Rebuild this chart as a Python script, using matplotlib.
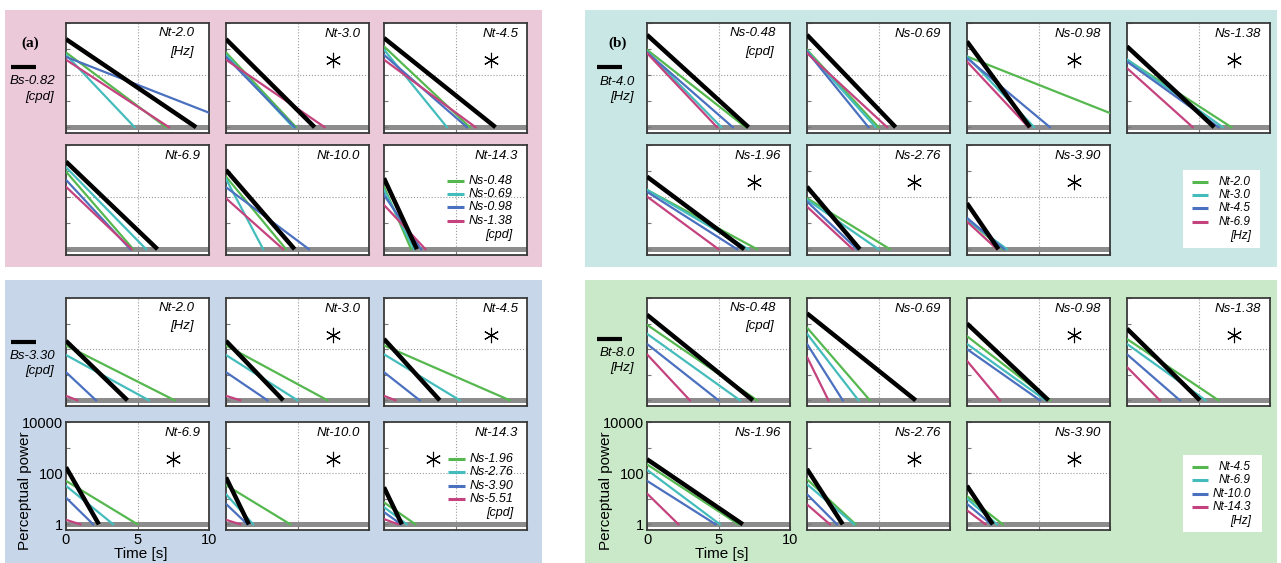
import numpy as np
import matplotlib.pyplot as plt
from matplotlib.lines import Line2D
from matplotlib.patches import Rectangle

W, H = 1281, 563
plt.rcParams['font.family'] = ['Liberation Sans', 'DejaVu Sans']

GREEN = '#55b84f'
CYAN = '#45bcbc'
BLUE = '#4a70bf'
MAGENTA = '#c4437f'
line_colors = [GREEN, CYAN, BLUE, MAGENTA]

# ---- (a) upper: Bs-0.82 cpd, lines = Ns, panels = Nt
a_titles = ['Nt-2.0', 'Nt-3.0', 'Nt-4.5', 'Nt-6.9', 'Nt-10.0', 'Nt-14.3']
a_star = [0, 1, 1, 0, 0, 0]
a_black_start = [2400, 2400, 2650, 2300, 1100, 530]
a_black_end = [9.1, 6.2, 7.8, 6.4, 4.8, 2.3]
a_start = [[740, 600, 500, 390], [740, 600, 500, 390], [1260, 950, 600, 390],
           [950, 1400, 460, 250], [610, 500, 240, 90], [250, 190, 120, 50]]
a_end = [[7.0, 4.8, 12.6, 7.2], [4.9, 4.7, 4.8, 6.9], [6.0, 4.4, 5.8, 6.4],
         [4.7, 5.6, 4.5, 4.6], [4.2, 2.6, 5.8, 4.0], [1.9, 2.1, 2.6, 2.9]]
a_legend = ['Ns-0.48', 'Ns-0.69', 'Ns-0.98', 'Ns-1.38']

# ---- (a) lower: Bs-3.30 cpd
c_titles = ['Nt-2.0', 'Nt-3.0', 'Nt-4.5', 'Nt-6.9', 'Nt-10.0', 'Nt-14.3']
c_star = [0, 1, 1, 1, 1, 1]
c_black_start = [210, 210, 250, 170, 68, 28]
c_black_end = [4.3, 4.0, 3.9, 2.3, 1.6, 1.25]
c_start = [[140, 59, 12.6, 1.5], [140, 59, 12.6, 1.5], [140, 63, 12.6, 1.5],
           [50, 32, 11, 1.5], [34, 15, 6.3, 1.5], [7.2, 4.7, 3.0, 1.6]]
c_end = [[7.6, 5.8, 2.1, 0.8], [7.1, 5.0, 2.9, 1.0], [8.8, 5.3, 2.5, 0.8],
         [5.0, 3.3, 1.9, 1.0], [4.5, 1.9, 1.5, 1.0], [2.2, 1.6, 1.2, 1.0]]
c_legend = ['Ns-1.96', 'Ns-2.76', 'Ns-3.90', 'Ns-5.51']

# ---- (b) upper: Bt-4.0 Hz, lines = Nt, panels = Ns
b_titles = ['Ns-0.48', 'Ns-0.69', 'Ns-0.98', 'Ns-1.38', 'Ns-1.96', 'Ns-2.76', 'Ns-3.90']
b_star = [0, 0, 1, 1, 1, 1, 1]
b_black_start = [3500, 3500, 1950, 1260, 610, 250, 58]
b_black_end = [7.1, 6.2, 4.4, 6.1, 6.8, 3.7, 2.2]
b_start = [[940, 800, 750, 700], [940, 850, 800, 700], [520, 520, 450, 330],
           [390, 400, 330, 185], [190, 190, 160, 105], [91, 80, 68, 43],
           [14, 13, 16, 11.5]]
b_end = [[6.9, 5.2, 6.0, 4.9], [5.0, 4.8, 4.3, 5.6], [12.5, 4.7, 5.8, 4.3],
         [7.3, 6.7, 6.4, 4.6], [7.7, 7.1, 6.3, 5.0], [5.8, 5.0, 3.5, 3.2],
         [2.5, 2.8, 2.6, 2.1]]
b_legend = ['Nt-2.0', 'Nt-3.0', 'Nt-4.5', 'Nt-6.9']

# ---- (b) lower: Bt-8.0 Hz
d_titles = ['Ns-0.48', 'Ns-0.69', 'Ns-0.98', 'Ns-1.38', 'Ns-1.96', 'Ns-2.76', 'Ns-3.90']
d_star = [0, 0, 1, 1, 0, 1, 1]
d_black_start = [2200, 2500, 1000, 630, 350, 145, 32]
d_black_end = [7.4, 7.6, 5.7, 5.1, 6.7, 2.5, 1.8]
d_start = [[900, 400, 160, 63], [700, 400, 160, 50], [320, 160, 100, 35],
           [250, 160, 63, 20], [220, 135, 50, 16], [58, 37, 15, 6],
           [12.6, 10, 6.3, 3.5]]
d_end = [[7.7, 6.5, 5.0, 3.0], [4.4, 3.6, 2.5, 1.5], [5.8, 5.5, 5.1, 2.3],
         [6.4, 5.5, 3.7, 2.3], [6.4, 5.1, 4.8, 2.2], [3.4, 3.3, 2.1, 1.6],
         [2.5, 2.1, 1.7, 1.3]]
d_legend = ['Nt-4.5', 'Nt-6.9', 'Nt-10.0', 'Nt-14.3']

fig = plt.figure(figsize=(W / 100, H / 100), dpi=100)


def fx(x):
    return x / W


def fy(y):
    return 1 - y / H


def ftext(x, y, s, **kw):
    fig.text(fx(x), fy(y), s, va='center', **kw)


def fline(x0, x1, y, color, lw):
    fig.add_artist(Line2D([fx(x0), fx(x1)], [fy(y), fy(y)], color=color, lw=lw,
                          transform=fig.transFigure, solid_capstyle='butt'))


def frect(x0, y0, x1, y1, color):
    fig.add_artist(Rectangle((fx(x0), fy(y1)), fx(x1) - fx(x0), fy(y0) - fy(y1),
                             transform=fig.transFigure, facecolor=color,
                             edgecolor='none', zorder=-10))


# coloured backgrounds
frect(5, 10, 542, 267, '#ecc9d9')
frect(585, 10, 1277, 267, '#c9e8e5')
frect(5, 280, 542, 563, '#c7d7e9')
frect(585, 280, 1277, 563, '#cae9c9')


def make_axes(x, y, w, h, labels=False):
    ax = fig.add_axes([fx(x), fy(y + h), w / W, h / H])
    ax.set_yscale('log')
    ax.set_xlim(0, 10)
    ax.set_ylim(0.6, 10000)
    ax.axvline(5, color='#9a9a9a', lw=0.8, ls=':', zorder=1)
    ax.axhline(100, color='#9a9a9a', lw=0.8, ls=':', zorder=1)
    ax.axhline(1, color='#8c8c8c', lw=3.6, zorder=1)
    ax.minorticks_off()
    ax.set_xticks([0, 5, 10])
    ax.set_yticks([1, 10, 100, 1000, 10000])
    ax.tick_params(direction='in', length=3, width=0.8, color='#777777',
                   labelsize=10.5, pad=2)
    if labels:
        ax.set_xticklabels(['0', '5', '10'])
        ax.set_yticklabels(['1', '', '100', '', '10000'])
    else:
        ax.set_xticklabels([])
        ax.set_yticklabels([])
    for sp in ax.spines.values():
        sp.set_color('#3a3a3a')
        sp.set_linewidth(1.3)
    return ax


def draw_panel(cols, rows, h, titles, unit, stars, bk_start, bk_end, starts, ends,
               labels=False):
    n = len(cols)
    axes = []
    for i, title in enumerate(titles):
        x = cols[i % n]
        y = rows[i // n]
        ax = make_axes(x, y, 143, h, labels=(labels and i == n))
        for k in range(4):
            ax.plot([0, ends[i][k]], [starts[i][k], 1], color=line_colors[k], lw=1.6,
                    zorder=3)
        ax.plot([0, bk_end[i]], [bk_start[i], 1], color='black', lw=3.2, zorder=4,
                solid_capstyle='butt')
        if i == 0:
            ax.text(0.9, 0.91, title, transform=ax.transAxes, ha='right', va='center',
                    style='italic', fontsize=9.5)
            ax.text(0.89, 0.74, unit, transform=ax.transAxes, ha='right', va='center',
                    style='italic', fontsize=9.5)
        else:
            ax.text(0.94, 0.9, title, transform=ax.transAxes, ha='right', va='center',
                    style='italic', fontsize=9.5)
        axes.append(ax)
        if stars[i]:
            sx = 0.34 if (labels and n == 3 and i == 5) else 0.75
            ax.plot([sx], [0.66], marker=(6, 2, 0), ms=11, mew=0.8, color='black',
                    transform=ax.transAxes, zorder=5)
    return axes


def draw_legend(x0, x1, xt, ys, names, unit, size=9):
    for k, name in enumerate(names):
        fline(x0, x1, ys[k], line_colors[k], 2.2)
        ftext(xt, ys[k], name, ha='right', style='italic', fontsize=size)
    ftext(xt, ys[4], unit, ha='right', style='italic', fontsize=size)


left_cols = [66, 226, 384]
right_cols = [647, 807, 967, 1127]

draw_panel(left_cols, [23, 145], 110, a_titles, '[Hz]', a_star, a_black_start,
           a_black_end, a_start, a_end)
draw_panel(right_cols, [23, 145], 110, b_titles, '[cpd]', b_star, b_black_start,
           b_black_end, b_start, b_end)
draw_panel(left_cols, [298, 422], 108, c_titles, '[Hz]', c_star, c_black_start,
           c_black_end, c_start, c_end, labels=True)
draw_panel(right_cols, [298, 422], 108, d_titles, '[cpd]', d_star, d_black_start,
           d_black_end, d_start, d_end, labels=True)

# in-plot legends of (a)
draw_legend(447, 464, 512, [181, 194, 207, 221, 235], a_legend, '[cpd]')
draw_legend(448, 465, 513, [459, 472, 486, 499, 513], c_legend, '[cpd]')

# boxed legends of (b)
frect(1183, 170, 1260, 248, 'white')
draw_legend(1192, 1208, 1251, [182, 195, 208, 222, 236], b_legend, '[Hz]', 8.5)
frect(1183, 455, 1262, 532, 'white')
draw_legend(1192, 1208, 1251, [467, 480, 494, 507, 521], d_legend, '[Hz]', 8.5)

# panel letters and baseline keys
ftext(30, 43, '(a)', ha='center', family='Liberation Serif', weight='bold', fontsize=11)
ftext(618, 43, '(b)', ha='center', family='Liberation Serif', weight='bold', fontsize=11)

fline(11, 36, 67, 'black', 3)
ftext(55, 81, 'Bs-0.82', ha='right', style='italic', fontsize=9.5)
ftext(54, 97, '[cpd]', ha='right', style='italic', fontsize=9.5)

fline(11, 36, 342, 'black', 3)
ftext(55, 356, 'Bs-3.30', ha='right', style='italic', fontsize=9.5)
ftext(54, 371, '[cpd]', ha='right', style='italic', fontsize=9.5)

fline(597, 622, 67, 'black', 3)
ftext(635, 82, 'Bt-4.0', ha='right', style='italic', fontsize=9.5)
ftext(634, 97, '[Hz]', ha='right', style='italic', fontsize=9.5)

fline(597, 622, 339, 'black', 3)
ftext(635, 353, 'Bt-8.0', ha='right', style='italic', fontsize=9.5)
ftext(634, 368, '[Hz]', ha='right', style='italic', fontsize=9.5)

# axis titles for the labelled corner plots
for x0 in (66, 647):
    ftext(x0 - 41, 491, 'Perceptual power', ha='center', rotation=90, fontsize=11)
    ftext(x0 + 75, 554, 'Time [s]', ha='center', fontsize=11)

fig.savefig('out.png', dpi=100)
